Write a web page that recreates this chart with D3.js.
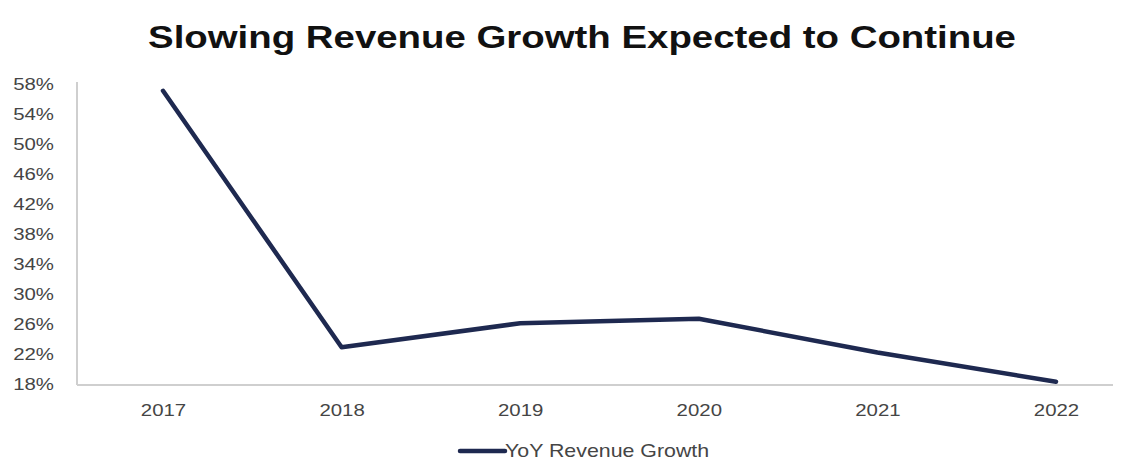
<!DOCTYPE html>
<html>
<head>
<meta charset="utf-8">
<script src="https://cdn.jsdelivr.net/npm/d3@7"></script>
<style>
  html, body { margin: 0; padding: 0; background: #fff; }
  svg { display: block; }
</style>
</head>
<body>
<svg id="chart" width="1132" height="461"></svg>
<script>
// Year-over-year revenue growth, actual and projected
const years = ["2017", "2018", "2019", "2020", "2021", "2022"];
const growth = [57.1, 22.9, 26.1, 26.7, 22.2, 18.3];
const yTicks = [18, 22, 26, 30, 34, 38, 42, 46, 50, 54, 58];
const titleText = "Slowing Revenue Growth Expected to Continue";
const seriesName = "YoY Revenue Growth";

const svg = d3.select("#chart");
const lineColor = "#1e2950";
const textColor = "#454545";
const font = "'Liberation Sans', Arial, sans-serif";
const wide = "scale(1.2,1)";   // slightly widened lettering

// plot frame
const frame = { left: 77, right: 1113, top: 82, bottom: 385 };

const x = d3.scalePoint().domain(years).range([163, 1056]);
const y = d3.scaleLinear().domain([18, 58]).range([384, 84]);

// title
svg.append("g").attr("transform", "translate(582,48)")
  .append("text")
  .attr("transform", wide)
  .attr("text-anchor", "middle")
  .attr("font-family", font)
  .attr("font-weight", "bold")
  .attr("font-size", 32)
  .attr("fill", "#111")
  .text(titleText);

// y axis: labels only, light frame line
const yAxis = d3.axisLeft(y).tickValues(yTicks).tickSize(0).tickPadding(0)
  .tickFormat(d => d + "%");
const gy = svg.append("g").attr("transform", "translate(54,0)").call(yAxis);
gy.select(".domain").remove();
gy.selectAll("text")
  .attr("transform", wide)
  .attr("font-family", font).attr("font-size", 17).attr("fill", textColor);

svg.append("line")
  .attr("x1", frame.left).attr("x2", frame.left)
  .attr("y1", frame.top).attr("y2", frame.bottom)
  .attr("stroke", "#cfcfcf").attr("stroke-width", 2);

// x axis
const xAxis = d3.axisBottom(x).tickSize(0).tickPadding(0);
const gx = svg.append("g").attr("transform", "translate(0,404)").call(xAxis);
gx.select(".domain").remove();
gx.selectAll("text")
  .attr("transform", wide)
  .attr("font-family", font).attr("font-size", 17).attr("fill", textColor);

svg.append("line")
  .attr("x1", frame.left).attr("x2", frame.right)
  .attr("y1", frame.bottom).attr("y2", frame.bottom)
  .attr("stroke", "#cfcfcf").attr("stroke-width", 2);

// series line
const data = years.map((yr, i) => ({ yr, v: growth[i] }));
svg.append("path")
  .datum(data)
  .attr("fill", "none")
  .attr("stroke", lineColor)
  .attr("stroke-width", 4.5)
  .attr("stroke-linejoin", "round")
  .attr("stroke-linecap", "round")
  .attr("d", d3.line().x(d => x(d.yr)).y(d => y(d.v)));

// legend
const lg = svg.append("g").attr("transform", "translate(460,451)");
lg.append("line")
  .attr("x1", 0).attr("x2", 45).attr("y1", 0).attr("y2", 0)
  .attr("stroke", lineColor).attr("stroke-width", 4.5)
  .attr("stroke-linecap", "round");
lg.append("g").attr("transform", "translate(45,6)")
  .append("text")
  .attr("transform", "scale(1.22,1)")
  .attr("font-family", font).attr("font-size", 17.5)
  .attr("fill", textColor)
  .text(seriesName);
</script>
</body>
</html>
